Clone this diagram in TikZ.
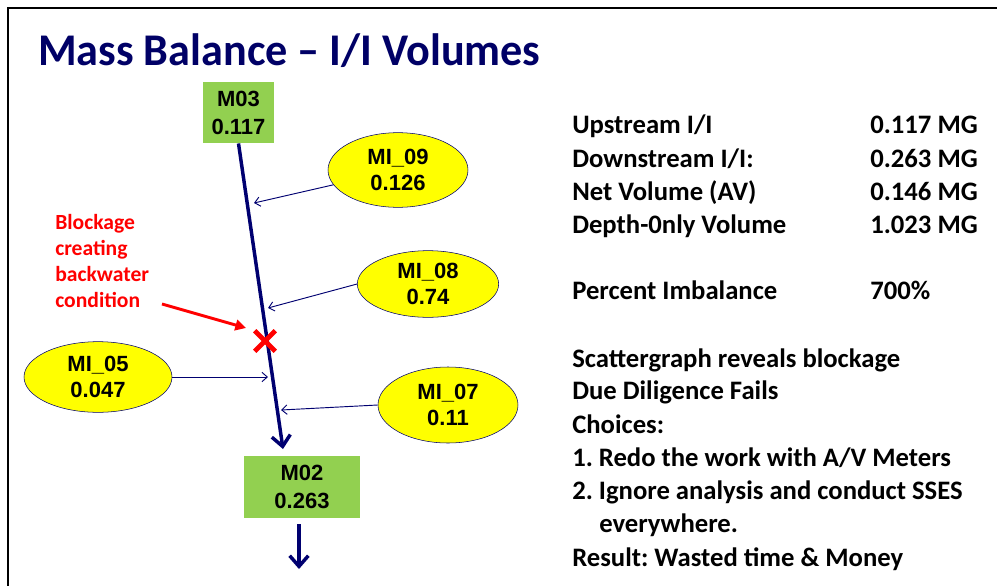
\documentclass[tikz,border=0pt]{standalone}
\usepackage{fontspec}
\setmainfont{Carlito}
\newfontfamily\arialfont{Liberation Sans}
\usetikzlibrary{arrows.meta,shapes.geometric,shapes.misc}
\frenchspacing
\definecolor{titlenavy}{RGB}{0,0,102}
\definecolor{pipenavy}{RGB}{0,0,112}
\definecolor{metergreen}{RGB}{146,208,80}
\definecolor{inflowyellow}{RGB}{255,255,0}
\definecolor{alertred}{RGB}{255,0,0}
\tikzset{
  meter/.style   ={rectangle, fill=metergreen, inner sep=0pt, align=center,
                   font=\arialfont\bfseries\fontsize{16.5}{21}\selectfont},
  inflow/.style  ={ellipse, draw=pipenavy, fill=inflowyellow, inner sep=0pt, align=center,
                   minimum width=105pt, minimum height=56pt,
                   font=\arialfont\bfseries\fontsize{16.5}{19.5}\selectfont},
  pipe/.style    ={-{Straight Barb[length=8pt,width=14pt]}, line width=2.6pt, draw=pipenavy},
  feed/.style    ={-{Straight Barb[length=4pt,width=7pt]}, line width=0.7pt, draw=pipenavy},
  redflow/.style ={-{Triangle[length=8pt,width=8pt]}, line width=2.2pt, draw=alertred},
  summary/.style ={anchor=base west, inner sep=0pt, font=\bfseries\fontsize{20}{24}\selectfont},
  frame/.style   ={line width=2pt, draw=black}
}
\begin{document}
\begin{tikzpicture}[x=0.75pt, y=-0.75pt]
\useasboundingbox (0,0) rectangle (997,586);
% Slide frame and title
\draw[frame] (8,586) -- (8,8) -- (997,8);
\node[anchor=base west, inner sep=0pt, text=titlenavy, xscale=0.975,
      font=\bfseries\fontsize{34}{40}\selectfont] (title) at (38,65) {Mass Balance -- I/I Volumes};
% Meters
\node[meter, minimum width=53pt, minimum height=46pt] (M03) at (238.5,112.5) {M03\\0.117};
\node[meter, minimum width=87pt, minimum height=46.5pt] (M02) at (302,487) {M02\\0.263};
% Inflow meters
\node[inflow] (MI09) at (398,170) {MI\_09\\0.126};
\node[inflow, minimum width=106pt, minimum height=50pt] (MI08) at (428,284) {MI\_08\\0.74};
\node[inflow, minimum width=111pt, minimum height=53pt] (MI05) at (98,377) {MI\_05\\0.047};
\node[inflow, minimum height=57pt] (MI07) at (448,405) {MI\_07\\0.11};
% Main trunk
\coordinate (tip) at (283,449);
\draw[pipe] (M03.south) -- (tip);
\coordinate (outlet) at (299,569);
\draw[pipe, shorten <=4.5pt] (M02.south -| outlet) -- (outlet);
% Inflows onto the trunk
\coordinate (in09) at (254,203);
\coordinate (in08) at (268,308);
\coordinate (in05) at (268,377);
\coordinate (in07) at (281,410);
\draw[feed] (MI09) -- (in09);
\draw[feed] (MI08.west) -- (in08);
\draw[feed] (MI05.east) -- (in05);
\draw[feed] (MI07.west) -- (in07);
% Blockage
\node[cross out, draw=alertred, line width=3.5pt, minimum size=12pt, inner sep=0pt] (xmark) at (265,341) {};
\node[anchor=north west, inner sep=0pt, align=left, text=alertred,
      font=\bfseries\fontsize{16.2}{19.5}\selectfont] (blocktext) at (55,214)
      {Blockage\\creating\\backwater\\condition};
\coordinate (redstart) at (162,304);
\coordinate (redend) at (246,328);
\draw[redflow] (redstart) -- (redend);
% Summary
\foreach \y/\key/\val [count=\i] in {133/{Upstream I/I}/{0.117 MG}, 167/{Downstream I/I:}/{0.263 MG},
    200/{Net Volume (AV)}/{0.146 MG}, 233/{Depth-0nly Volume}/{1.023 MG}, 299/{Percent Imbalance}/{700\%}}{
  \node[summary] (key\i) at (572,\y) {\key};
  \node[summary] (val\i) at (870,\y) {\val};
}
\foreach \y/\txt [count=\i] in {367/{Scattergraph reveals blockage}, 399/{Due Diligence Fails},
    433/{Choices:}, 466/{1. Redo the work with A/V Meters}, 499/{2. Ignore analysis and conduct SSES},
    566/{Result: Wasted time \& Money}}{
  \node[summary] (note\i) at (572,\y) {\txt};
}
\node[summary] (note7) at (599,532) {everywhere.};
\end{tikzpicture}
\end{document}
